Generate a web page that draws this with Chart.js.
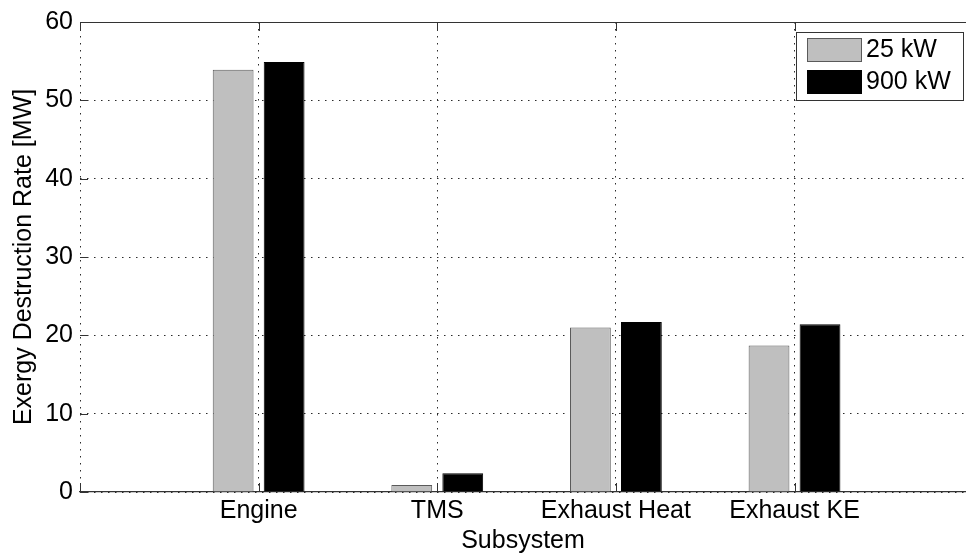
<!DOCTYPE html>
<html>
<head>
<meta charset="utf-8">
<script src="https://cdn.jsdelivr.net/npm/chart.js@4.4.1/dist/chart.umd.min.js"></script>
<style>
  html, body { margin: 0; padding: 0; background: #fff; overflow: hidden; }
</style>
</head>
<body>
<canvas id="chart" width="966" height="554"></canvas>
<script>
// data
const categories = ['Engine', 'TMS', 'Exhaust Heat', 'Exhaust KE'];
const seriesNames = ['25 kW', '900 kW'];
const rate25kW = [53.9, 0.9, 21.0, 18.7];
const rate900kW = [54.9, 2.4, 21.7, 21.4];
const yTickStep = 10;
const yMax = 60;

const FONT = { family: '"Liberation Sans", Arial, sans-serif', size: 25 };
const GRID = '#2a2a2a';
const DOTS = [1.5, 5.5];

// MATLAB style: ticks drawn inward, solid box on top
const axesBox = {
  id: 'axesBox',
  afterDatasetsDraw(chart) {
    const { ctx, chartArea: a, scales } = chart;
    ctx.save();
    ctx.strokeStyle = '#333';
    ctx.lineWidth = 1;
    ctx.beginPath();
    ctx.moveTo(a.left, a.top + 0.5);
    ctx.lineTo(a.right, a.top + 0.5);
    scales.y.ticks.forEach(t => {
      const py = Math.round(scales.y.getPixelForValue(t.value)) + 0.5;
      ctx.moveTo(a.left, py);
      ctx.lineTo(a.left + 8, py);
    });
    scales.x.ticks.forEach(t => {
      const px = Math.round(scales.x.getPixelForValue(t.value)) + 0.5;
      ctx.moveTo(px, a.bottom);
      ctx.lineTo(px, a.bottom - 9);
      ctx.moveTo(px, a.top);
      ctx.lineTo(px, a.top + 9);
    });
    ctx.stroke();
    ctx.restore();
  }
};

// boxed legend in the upper right corner
const boxLegend = {
  id: 'boxLegend',
  afterDraw(chart) {
    const { ctx } = chart;
    const left = 796, top = 32, w = 168, h = 69;
    ctx.save();
    ctx.fillStyle = '#fff';
    ctx.fillRect(left, top, w, h);
    ctx.strokeStyle = '#333';
    ctx.lineWidth = 1;
    ctx.strokeRect(left + 0.5, top + 0.5, w - 1, h - 1);
    ctx.font = FONT.size + 'px ' + FONT.family;
    ctx.textBaseline = 'middle';
    ctx.textAlign = 'left';
    chart.data.datasets.forEach((ds, i) => {
      const y = top + 6 + i * 32;
      ctx.fillStyle = ds.backgroundColor;
      ctx.fillRect(left + 11, y, 55, 24);
      ctx.strokeStyle = ds.borderColor;
      ctx.strokeRect(left + 11.5, y + 0.5, 54, 23);
      ctx.fillStyle = '#000';
      ctx.fillText(ds.label, left + 70, y + 12);
    });
    ctx.restore();
  }
};

const ctx = document.getElementById('chart').getContext('2d');
const chart = new Chart(ctx, {
  type: 'bar',
  data: {
    datasets: [
      {
        label: seriesNames[0],
        data: categories.map((c, i) => ({ x: i + 1, y: rate25kW[i] })),
        backgroundColor: '#bfbfbf',
        borderColor: '#5a5a5a',
        borderWidth: 1
      },
      {
        label: seriesNames[1],
        data: categories.map((c, i) => ({ x: i + 1, y: rate900kW[i] })),
        backgroundColor: '#000000',
        borderColor: '#000000',
        borderWidth: 1
      }
    ]
  },
  options: {
    responsive: false,
    animation: false,
    devicePixelRatio: 1,
    barPercentage: 0.8,
    categoryPercentage: 0.571,
    layout: { padding: { top: 22, left: 0, right: 0, bottom: 0 } },
    plugins: {
      legend: { display: false },
      tooltip: { enabled: false }
    },
    scales: {
      x: {
        type: 'linear',
        min: 0,
        max: 4.96,
        offset: false,
        afterFit: s => { s.height = 62; },
        grid: { color: GRID, lineWidth: 1, drawTicks: false, offset: false },
        border: { display: true, color: '#333', width: 1.3, dash: DOTS },
        ticks: {
          stepSize: 1,
          includeBounds: false,
          autoSkip: false,
          maxRotation: 0,
          padding: 4,
          color: '#000',
          font: FONT,
          callback: v => categories[v - 1] || ''
        },
        title: {
          display: true,
          text: 'Subsystem',
          color: '#000',
          font: FONT,
          padding: { top: 0, bottom: -2 }
        }
      },
      y: {
        min: 0,
        max: yMax,
        afterFit: s => { s.width = 80; },
        grid: { color: GRID, lineWidth: 1, drawTicks: false },
        border: { display: false, dash: DOTS },
        ticks: { stepSize: yTickStep, padding: 7, color: '#000', font: FONT },
        title: {
          display: true,
          text: 'Exergy Destruction Rate [MW]',
          color: '#000',
          font: FONT,
          padding: { top: 9, bottom: 0 }
        }
      }
    }
  },
  plugins: [axesBox, boxLegend]
});
</script>
</body>
</html>
